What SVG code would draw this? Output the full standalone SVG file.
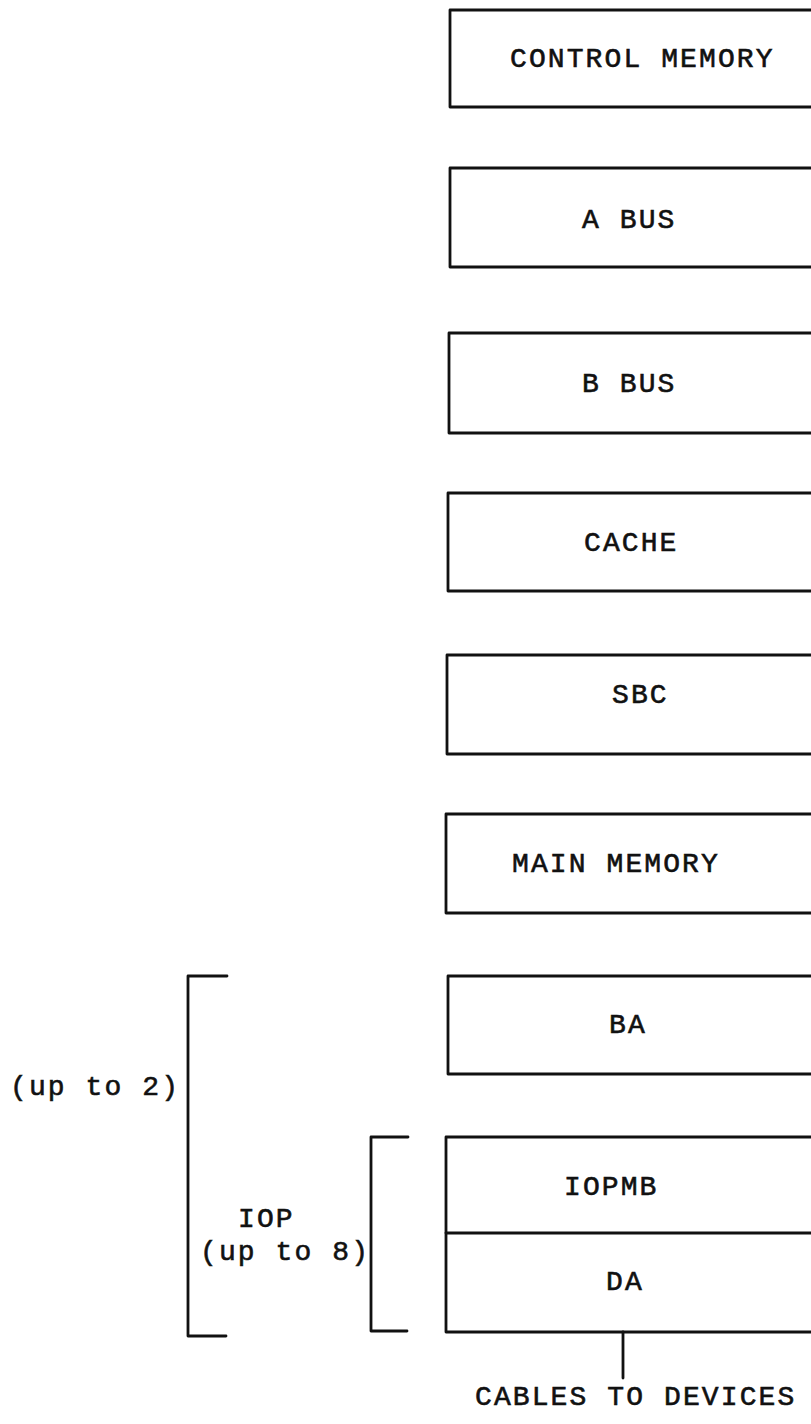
<svg xmlns="http://www.w3.org/2000/svg" width="811" height="1424" viewBox="0 0 811 1424">
<style>
.box{fill:none;stroke:#111;stroke-width:2.8;stroke-linejoin:round}
.ln{fill:none;stroke:#111;stroke-width:2.8;stroke-linecap:round;stroke-linejoin:round}
text{font-family:"Liberation Mono","Courier New",monospace;font-size:28px;letter-spacing:2.1px;fill:#111;stroke:#111;stroke-width:0.6}
</style>
<rect width="811" height="1424" fill="#fff"/>
<g id="control-memory"><rect class="box" x="450" y="10" width="370" height="97"/><text x="510" y="67">CONTROL MEMORY</text></g>
<g id="a-bus"><rect class="box" x="450" y="168" width="370" height="99"/><text x="582" y="228">A BUS</text></g>
<g id="b-bus"><rect class="box" x="449" y="333" width="370" height="100"/><text x="582" y="392">B BUS</text></g>
<g id="cache"><rect class="box" x="448" y="493" width="370" height="98"/><text x="584" y="551">CACHE</text></g>
<g id="sbc"><rect class="box" x="447" y="655" width="370" height="99"/><text x="612" y="703">SBC</text></g>
<g id="main-memory"><rect class="box" x="446" y="814" width="370" height="99"/><text x="512" y="872">MAIN MEMORY</text></g>
<g id="ba"><rect class="box" x="448" y="976" width="370" height="98"/><text x="609" y="1033">BA</text></g>
<g id="iopmb-da"><rect class="box" x="446" y="1137" width="370" height="195"/><line class="ln" x1="446" y1="1233" x2="816" y2="1233"/><text x="564" y="1195">IOPMB</text><text x="606" y="1290">DA</text></g>
<g id="brackets"><path class="ln" d="M227 976 H188 V1336 H226"/><path class="ln" d="M408 1137 H371 V1331 H407"/></g>
<g id="labels"><text x="10" y="1095">(up to 2)</text><text x="238" y="1227">IOP</text><text x="200" y="1260">(up to 8)</text><text x="475" y="1405">CABLES TO DEVICES</text></g>
<g id="connectors"><line class="ln" x1="623" y1="1332" x2="623" y2="1378"/></g>
</svg>
